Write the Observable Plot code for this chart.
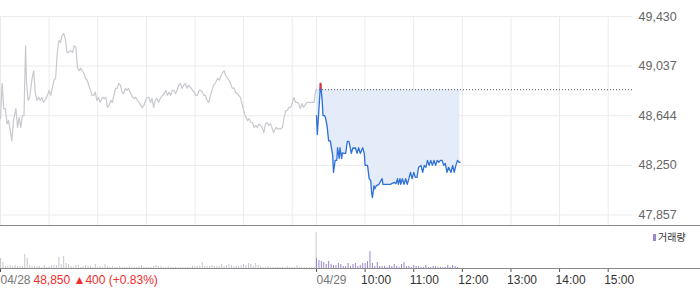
<!DOCTYPE html>
<html><head><meta charset="utf-8">
<script src="https://cdn.jsdelivr.net/npm/d3@7"></script>
<script src="https://cdn.jsdelivr.net/npm/@observablehq/plot@0.6"></script>
<style>
body{margin:0;background:#fff;}
#wrap{position:relative;width:700px;height:289px;overflow:hidden;font-family:"Liberation Sans",Arial,sans-serif;}
#price{position:absolute;left:0;top:0;}
#vol{position:absolute;left:0;top:226px;}
.hline{position:absolute;left:0;width:700px;height:1px;background:#8a8a8a;}
#legend{position:absolute;left:653px;top:230px;font:10px "Noto Sans CJK KR",sans-serif;color:#333;display:flex;align-items:center;line-height:14px;}
#legend i{display:inline-block;width:3px;height:7px;background:#9a86cc;margin-right:2px;}
</style></head>
<body>
<div id="wrap">
  <div id="price"></div>
  <div id="vol"></div>
  <div class="hline" style="top:225px"></div>
  <div class="hline" style="top:268px"></div>
  <div id="legend"><i></i><span>거래량</span></div>
</div>
<script>
// ---- data (minutes since 09:00 of 04/28; 04/29 09:00 = 390) ----
const day1Minute = [0,2,4,6,8,10,12,14,16,19,21,23,25,27,29,30,31,32,34,36,39,41,43,45,47,49,51,53,56,58,60,62,64,66,68,70,72,74,76,78,80,82,84,86,89,91,93,95,97,99,101,103,105,107,109,111,113,115,117,119,121,123,126,128,130,132,134,136,138,140,142,144,146,148,150,152,154,156,158,160,163,165,167,169,171,173,175,177,179,181,183,185,187,189,191,193,195,198,200,202,204,206,208,210,212,214,216,218,220,222,224,226,228,230,232,235,237,239,241,243,245,247,249,251,253,255,257,259,261,263,265,268,270,272,274,276,278,280,282,284,286,288,290,292,294,296,298,300,302,305,307,309,311,313,315,317,319,321,323,325,327,329,331,333,335,337,340,342,344,346,348,350,352,354,356,358,360,362,364,366,368,370,372,374,377,379,383,387,389,390];
const day1Price = [48620,48900,48700,48700,48580,48605,48525,48445,48605,48700,48550,48630,48550,48645,48645,48940,49200,48925,48765,48790,48940,49000,48820,48765,48790,48765,48790,48750,48780,48805,48845,48805,48865,48925,48940,49135,49240,49225,49280,49295,49255,49145,49145,49160,49145,49200,49185,49025,49000,49020,49000,48980,48940,48925,48885,48845,48805,48805,48830,48765,48790,48750,48790,48780,48790,48710,48725,48765,48750,48805,48860,48860,48900,48885,48830,48820,48860,48845,48860,48830,48790,48780,48790,48765,48750,48725,48710,48725,48765,48790,48790,48750,48780,48710,48765,48780,48750,48790,48805,48820,48845,48805,48830,48805,48845,48845,48820,48845,48885,48900,48860,48885,48900,48860,48885,48865,48845,48830,48805,48805,48845,48845,48830,48805,48805,48765,48750,48805,48845,48885,48900,48940,48925,48960,48985,49000,48960,48945,48925,48900,48860,48865,48830,48820,48805,48790,48740,48685,48645,48605,48620,48590,48590,48550,48565,48550,48580,48565,48550,48510,48580,48590,48565,48580,48550,48510,48550,48540,48540,48540,48550,48630,48685,48685,48710,48710,48740,48790,48750,48750,48740,48700,48740,48710,48740,48750,48750,48750,48845,48850];
const day2Minute = [390,391,395,397,398,400,401,403,405,407,410,411,413,415,416,418,419,421,422,424,426,428,430,431,433,435,436,438,440,442,444,447,449,450,453,455,457,458,459,461,462,464,467,471,472,477,481,486,488,490,491,493,494,496,498,500,502,504,506,508,510,512,514,516,519,521,523,525,527,529,531,533,535,537,539,541,543,545,547,549,551,553,556,558,560,562,564,566,567];
const day2Price = [48645,48495,48900,48765,48645,48645,48630,48565,48445,48445,48330,48195,48290,48290,48390,48305,48390,48305,48350,48345,48345,48440,48440,48410,48345,48390,48385,48390,48345,48390,48345,48390,48345,48250,48250,48145,48130,48035,47995,48090,48065,48090,48100,48145,48100,48100,48100,48115,48105,48145,48100,48145,48100,48145,48100,48145,48100,48145,48195,48145,48195,48155,48155,48235,48250,48195,48250,48235,48290,48250,48290,48250,48290,48250,48290,48275,48290,48290,48250,48265,48195,48235,48195,48250,48195,48250,48290,48275,48275];
const prevClose = 48850;
const priceTicks = [47857,48250,48644,49037,49430];
// volume (thousand shares), one bar every 3 minutes
const volStep = 3;
const day1Vol = [30,18,6,6,9,6,9,6,6,6, 42,30,9,6,6,6,6,3,9,3, 6,9,9,9,33,12,36,15,12,6, 3,9,9,3,6,9,6,6,3,12, 3,6,3,12,6,3,6,3,3,6, 3,3,3,6,3,3,3,6,9,3, 3,3,3,6,9,6,6,3,3,6, 3,3,3,3,3,3,3,3,3,6, 6,6,6,18,6,6,6,9,6,6, 6,12,6,9,12,9,6,6,6,9, 12,9,15,12,6,15,9,6,3,3, 6,3,3,3,3,3,3,3,6,3, 3,3,9,3,3,3,3,3,3,3];
const day1CloseAuctionMinute = 389.5;
const day1CloseAuctionVol = 108;
const day2Vol = [30,24,21,18,12,21,12,9,9,15, 12,6,6,15,6,12,15,6,9,15, 15,21,51,15,6,18,6,6,6,3, 9,6,12,6,3,12,18,6,6,3, 9,6,6,3,3,9,3,3,6,6, 3,3,3,3,9,3,9,6,3];
const gridMinutes = [0,60,120,180,240,300,360,390,450,510,570,630,690,750];
const dateLabels = [{m:0,label:"04/28"},{m:390,label:"04/29"}];
const timeLabels = [{m:450,label:"10:00"},{m:510,label:"11:00"},{m:570,label:"12:00"},{m:630,label:"13:00"},{m:690,label:"14:00"},{m:750,label:"15:00"}];
const lastPrice = 48850, change = 400, changePct = 0.83;

// ---- build tables ----
const day1 = day1Minute.map((m,i)=>({m, p:day1Price[i]}));
const day2 = day2Minute.map((m,i)=>({m, p:day2Price[i]}));
const vol1 = day1Vol.map((v,i)=>({m:i*volStep, v})).concat([{m:day1CloseAuctionMinute, v:day1CloseAuctionVol}]);
const vol2 = day2Vol.map((v,i)=>({m:390+i*volStep, v}));
const peak = d3.greatest(day2, d=>d.p);
const fmt = d3.format(",");
const FONT = "Liberation Sans, Arial, sans-serif";

const pricePlot = Plot.plot({
  width:700, height:226, marginTop:16, marginRight:68, marginBottom:1, marginLeft:0,
  x:{domain:[0,780], axis:null},
  y:{domain:[47774,49430], axis:null},
  style:{overflow:"visible", background:"transparent", fontFamily:FONT},
  marks:[
    Plot.ruleX(gridMinutes,{stroke:"#ebebeb", strokeWidth:1}),
    Plot.ruleY(priceTicks,{stroke:"#ebebeb", strokeWidth:1}),
    Plot.areaY(day2,{x:"m", y1:prevClose, y2:"p", fill:"#e4ecf9"}),
    Plot.ruleY([prevClose],{x1:390, x2:780, stroke:"#555", strokeDasharray:"1,2", strokeWidth:1}),
    Plot.line(day1,{x:"m", y:"p", stroke:"#c7c9ce", strokeWidth:1.2}),
    Plot.line(day2,{x:"m", y:"p", stroke:"#2e6fd8", strokeWidth:1.3}),
    Plot.ruleX([peak],{x:"m", y1:prevClose, y2:"p", stroke:"#ee2d2d", strokeWidth:2}),
    Plot.text(priceTicks,{x:780, y:d=>d, text:d=>fmt(d), textAnchor:"start", dx:6, fill:"#666", fontSize:12.5, fontFamily:FONT})
  ]
});
document.getElementById("price").append(pricePlot);

const volPlot = Plot.plot({
  width:700, height:63, marginTop:0, marginRight:68, marginBottom:21, marginLeft:0,
  x:{domain:[0,780], axis:null},
  y:{domain:[0,126], axis:null},
  style:{overflow:"visible", background:"transparent", fontFamily:FONT},
  marks:[
    Plot.ruleX(vol1,{x:"m", y1:0, y2:"v", stroke:"#c4c6cc", strokeWidth:1}),
    Plot.ruleX(vol2,{x:"m", y1:0, y2:"v", stroke:"#9a86cc", strokeWidth:1}),
    Plot.axisX({ticks:dateLabels.map(d=>d.m).concat(timeLabels.map(d=>d.m)), tickSize:4, tickFormat:()=>"", label:null, stroke:"#555"}),
    Plot.text(dateLabels,{x:"m", text:"label", frameAnchor:"bottom", dy:15, textAnchor:"start", fill:"#777", fontSize:12, fontFamily:FONT}),
    Plot.text(timeLabels,{x:"m", text:"label", frameAnchor:"bottom", dy:15, dx:-4, textAnchor:"start", fill:"#333", fontSize:12, fontFamily:FONT}),
    Plot.text([dateLabels[0]],{x:"m", text:()=>`${fmt(lastPrice)} ▲${fmt(change)} (+${changePct.toFixed(2)}%)`, frameAnchor:"bottom", dy:15, dx:33, textAnchor:"start", fill:"#ee2d2d", fontSize:12, fontFamily:FONT})
  ]
});
document.getElementById("vol").append(volPlot);
</script>
</body></html>
